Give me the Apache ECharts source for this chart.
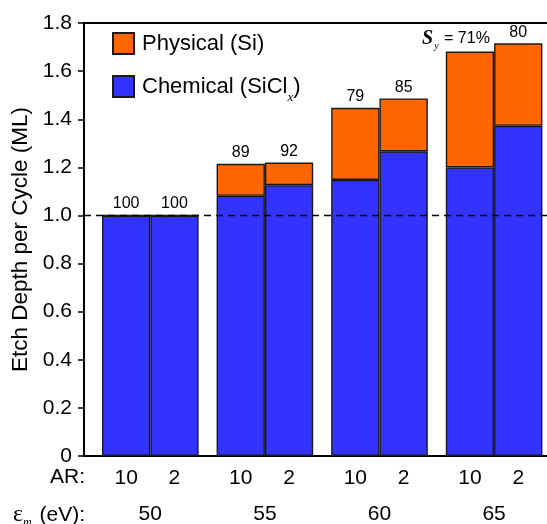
<!DOCTYPE html>
<html>
<head>
<meta charset="utf-8">
<script src="https://cdn.jsdelivr.net/npm/echarts@6/dist/echarts.min.js"></script>
<style>
  html, body { margin: 0; padding: 0; background: #fff; }
  #chart { width: 547px; height: 524px; }
</style>
</head>
<body>
<div id="chart"></div>
<script>
// Ion energies (eV) and aspect ratios of the trenches
const energies = ['50', '55', '60', '65'];
const arLabels = ['10', '2'];

// Etch depth per cycle (ML), split into chemical (SiClx) and physical (Si) parts
const chemAR10 = [1.000, 1.082, 1.148, 1.200];
const physAR10 = [0.000, 0.133, 0.300, 0.482];
const chemAR2  = [1.000, 1.126, 1.267, 1.373];
const physAR2  = [0.000, 0.094, 0.220, 0.343];

// Value axis ticks
const yMin = 0, yMax = 1.8, yStep = 0.2;
const referenceDepth = 1.0;

const PHYS = 'Physical (Si)';
const CHEM = 'Chemical (SiClx)';
const BLUE = '#3333FF';
const ORANGE = '#FF6600';
const EDGE = '#1a1a1a';
const SANS = '"Liberation Sans", Arial, Helvetica, sans-serif';
const SERIF = '"Liberation Serif", "Times New Roman", serif';

// Layout: a trailing empty slot lets the frame run past the right edge,
// and a blank spacer bar sits to the left of each pair of bars.
const slotWidth = 114.6;
const gapWidth = 18;
const barW = 48.3;
const categories = energies.concat(['']);

function pad(arr) { return arr.concat([null]); }

// Chemical share (%) written above each bar
function share(chem, phys, i) {
  return Math.round(chem[i] / (chem[i] + phys[i]) * 100);
}
const syIndex = 3; // the S_y symbol is spelled out on the 65 eV, AR 10 bar

const chart = echarts.init(document.getElementById('chart'), null, { renderer: 'canvas' });

const barLabel = (chem, phys, withSymbol) => ({
  show: true,
  position: 'top',
  distance: 3,
  color: '#000',
  fontFamily: SANS,
  fontSize: 16,
  formatter: p => {
    const v = share(chem, phys, p.dataIndex);
    if (withSymbol && p.dataIndex === syIndex) {
      return '{s|S}{sub|y}{t| = ' + v + '%}';
    }
    return String(v);
  },
  rich: {
    s: { fontFamily: SERIF, fontStyle: 'italic', fontWeight: 'bold', fontSize: 20, color: '#000' },
    sub: { fontFamily: SERIF, fontStyle: 'italic', fontSize: 10, color: '#000', lineHeight: 8, padding: [16, 1, 0, 1] },
    t: { fontFamily: SANS, fontSize: 16, color: '#000' }
  }
});

const itemStyle = color => ({ color: color, borderColor: EDGE, borderWidth: 1.4 });

const physAR10Items = pad(physAR10).map((v, i) =>
  i === syIndex ? { value: v, label: { offset: [-14, 0] } } : v);

const option = {
  backgroundColor: '#fff',
  animation: false,
  grid: {
    left: 84, top: 23.1, width: slotWidth * categories.length, height: 432.9,
    containLabel: false,
    outerBoundsMode: 'none',
    show: true, borderColor: '#000', borderWidth: 2, backgroundColor: 'transparent'
  },
  legend: {
    data: [PHYS, CHEM],
    orient: 'vertical',
    left: 112, top: 32,
    padding: 0,
    itemWidth: 21, itemHeight: 21, itemGap: 14,
    icon: 'rect',
    selectedMode: false,
    textStyle: { fontFamily: SANS, fontSize: 22, color: '#000', padding: [0, 0, 0, 3],
      rich: {
        n: { fontFamily: SANS, fontSize: 22, color: '#000' },
        x: { fontFamily: SERIF, fontStyle: 'italic', fontSize: 13, color: '#000', lineHeight: 12, padding: [22, 0, 0, 0] }
      }
    },
    formatter: name => name === CHEM ? '{n|Chemical (SiCl}{x|x}{n|)}' : name
  },
  xAxis: {
    type: 'category',
    data: categories,
    axisLine: { lineStyle: { color: '#000', width: 2 } },
    axisTick: { show: false },
    axisLabel: {
      margin: 4,
      interval: 0,
      color: '#000',
      formatter: v => {
        if (!v) return '';
        return '{sp| }' + arLabels.map(a => '{ar|' + a + '}').join('') + '\n{sp| }{e|' + v + '}';
      },
      rich: {
        sp: { width: gapWidth, fontSize: 21, lineHeight: 36 },
        ar: { width: barW, align: 'center', fontFamily: SANS, fontSize: 21, lineHeight: 36, color: '#000' },
        e: { width: barW * 2, align: 'center', fontFamily: SANS, fontSize: 21, lineHeight: 36, color: '#000' }
      }
    }
  },
  yAxis: {
    type: 'value',
    min: yMin, max: yMax, interval: yStep,
    name: 'Etch Depth per Cycle (ML)',
    nameLocation: 'middle',
    nameGap: 46,
    nameTextStyle: { fontFamily: SANS, fontSize: 22.5, color: '#000' },
    axisLine: { show: true, lineStyle: { color: '#000', width: 2 } },
    axisTick: { show: true, inside: false, length: 6, lineStyle: { color: '#000', width: 1.5 } },
    splitLine: { show: false },
    axisLabel: {
      margin: 12, color: '#000', fontFamily: SANS, fontSize: 21,
      formatter: v => v === 0 ? '0' : v.toFixed(1)
    }
  },
  series: [
    { name: 'gap', type: 'bar', barWidth: gapWidth, barGap: 0, data: categories.map(() => 0), silent: true,
      itemStyle: { color: 'transparent' } },
    {
      name: CHEM, type: 'bar', stack: 'ar10', barWidth: barW, barGap: 0,
      data: pad(chemAR10), itemStyle: itemStyle(BLUE),
      markLine: {
        silent: true, symbol: ['none', 'none'],
        label: { show: false },
        lineStyle: { color: '#000', width: 1.3, type: [7, 5] },
        data: [{ yAxis: referenceDepth }]
      }
    },
    {
      name: PHYS, type: 'bar', stack: 'ar10', barWidth: barW, barGap: 0,
      data: physAR10Items, itemStyle: itemStyle(ORANGE),
      label: barLabel(chemAR10, physAR10, true)
    },
    { name: CHEM, type: 'bar', stack: 'ar2', barWidth: barW, barGap: 0, data: pad(chemAR2), itemStyle: itemStyle(BLUE) },
    {
      name: PHYS, type: 'bar', stack: 'ar2', barWidth: barW, barGap: 0,
      data: pad(physAR2), itemStyle: itemStyle(ORANGE),
      label: barLabel(chemAR2, physAR2, false)
    }
  ],
  graphic: [
    { type: 'text', right: 547 - 85, top: 467,
      style: { text: 'AR:', font: '21px ' + SANS, fill: '#000' } },
    { type: 'text', right: 547 - 85, top: 501,
      style: {
        text: '{g|ε}{m|m}{n| (eV):}',
        fill: '#000',
        rich: {
          g: { fontFamily: SERIF, fontSize: 24, fill: '#000' },
          m: { fontFamily: SERIF, fontStyle: 'italic', fontSize: 12, fill: '#000', lineHeight: 10, padding: [16, 2, 0, 0] },
          n: { fontFamily: SANS, fontSize: 21, fill: '#000' }
        }
      } }
  ]
};

chart.setOption(option);
</script>
</body>
</html>
